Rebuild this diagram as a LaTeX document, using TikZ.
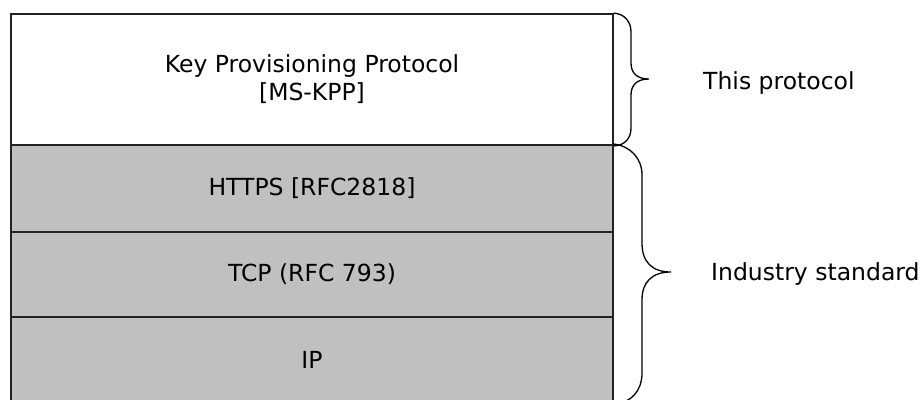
\documentclass[tikz,border=0pt]{standalone}
\usepackage{fontspec}
\setmainfont{DejaVu Sans}
\definecolor{layergray}{HTML}{C0C0C0}
\definecolor{linegray}{HTML}{222222}
\begin{document}
\begin{tikzpicture}[x=1pt,y=-1pt,
  layer/.style={draw=linegray,line width=1.8pt,minimum width=602pt,inner sep=0pt,align=center,font=\fontsize{23.5}{28}\selectfont},
  lbl/.style={inner sep=0pt,font=\fontsize{23.5}{28}\selectfont},
  bracepath/.style={draw=black,line width=1.3pt}]
\useasboundingbox (0,0) rectangle (920,399);
\clip (0,0) rectangle (920,399);
\node[layer,fill=white,minimum height=131pt] (kpp) at (312,79.5) {Key Provisioning Protocol\\{}[MS-KPP]};
\node[layer,fill=layergray,minimum height=87pt] (https) at (312,188.5) {HTTPS [RFC2818]};
\node[layer,fill=layergray,minimum height=85pt] (tcp) at (312,274.5) {TCP (RFC 793)};
\node[layer,fill=layergray,minimum height=86pt] (ip) at (312,360) {IP};
\draw[bracepath] (kpp.north east) .. controls (625,14) and (631,22) .. (631,32) -- (631,63)
  .. controls (631,73) and (637,79) .. (649,79) .. controls (637,79) and (631,85) .. (631,95)
  -- (631,128) .. controls (631,138) and (625,145.5) .. (kpp.south east);
\draw[bracepath] (https.north east) .. controls (630,146) and (642,158) .. (642,175) -- (642,243)
  .. controls (642,262) and (652,272) .. (671,272) .. controls (652,272) and (642,282) .. (642,300)
  -- (642,373) .. controls (642,390) and (632,403) .. (ip.south east);
\node[lbl,anchor=base west] (thisp) at (703,89) {This protocol};
\node[lbl,anchor=base west] (indus) at (711,280) {Industry standard};
\end{tikzpicture}
\end{document}
